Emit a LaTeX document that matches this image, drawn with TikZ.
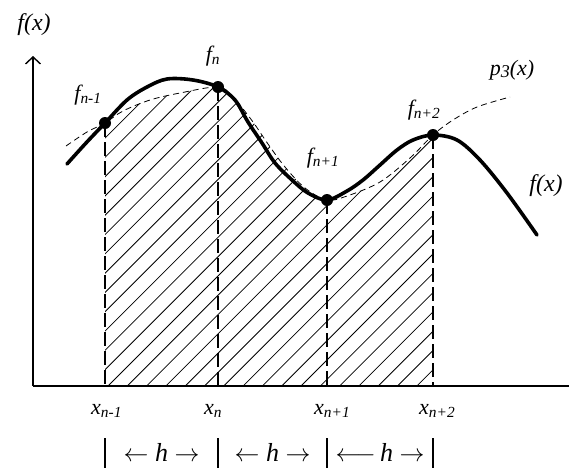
\documentclass[tikz,border=0pt]{standalone}
\usepackage{fontspec}
\setmainfont{Liberation Serif}
\usetikzlibrary{arrows.meta}
\begin{document}
\begin{tikzpicture}[x=1pt,y=-1pt,
  axis/.style={line width=1.4pt},
  fcurve/.style={line width=3.6pt, line cap=round, line join=round},
  pcurve/.style={line width=0.8pt, dash pattern=on 6pt off 4pt},
  vdash/.style={line width=1.1pt, dash pattern=on 14pt off 5pt},
  hatch/.style={line width=0.8pt},
  dot/.style={circle, fill, inner sep=0pt, minimum size=12pt},
  lab/.style={font=\fontsize{22}{24}\selectfont\itshape, inner sep=0pt},
  xlab/.style={font=\fontsize{22}{24}\selectfont\itshape, inner sep=0pt, anchor=base west},
  hlab/.style={font=\fontsize{26}{28}\selectfont, inner sep=0pt},
  bar/.style={line width=1.4pt}]
\useasboundingbox (0,0) rectangle (569,472);
% hatching
\begin{scope}
  \clip (105,0) rectangle (433,386);
  \clip plot[smooth, tension=0.55] coordinates {(66,146) (87,132) (105,123) (123,111) (150,100) (180,93) (218,87) (233,97) (253,122) (268,144) (285,167) (305,188) (327,200) (347,196) (380,182) (410,158) (433,135) (453,120) (477,107) (510,97)} -- (510,386) -- (66,386) -- cycle;
  \foreach \k in {-20,...,17} {
    \draw[hatch] ({108+19.3*\k},386) -- ++(340,-340);
  }
\end{scope}
% axes
\coordinate (O) at (33,386);
\coordinate (ytip) at (33,56);
\coordinate (xend) at (569,386);
\draw[axis, -{Straight Barb[length=7pt,width=15pt]}] (O) -- (ytip);
\draw[axis] (O) -- (xend);
\node[lab, font=\fontsize{24}{26}\selectfont\itshape] (ylab) at (34,25) {f(x)};
% p3 curve
\draw[pcurve] plot[smooth, tension=0.55] coordinates {(66,146) (87,132) (105,123) (123,111) (150,100) (180,93) (218,87) (233,97) (253,122) (268,144) (285,167) (305,188) (327,200) (347,196) (380,182) (410,158) (433,135) (453,120) (477,107) (510,97)};
% f curve
\draw[fcurve] plot[smooth, tension=0.55] coordinates {(67,164) (86,143) (105,123) (127,100) (147,87) (167,79) (193,80) (218,87) (235,100) (248,122) (262,143) (275,163) (292,180) (308,193) (327,200) (347,191) (363,180) (380,165) (397,150) (413,140) (433,135) (457,140) (480,160) (507,193) (537,235)};
% points
\node[dot] (d1) at (105,123) {};
\node[dot] (d2) at (218,87) {};
\node[dot] (d3) at (327,200) {};
\node[dot] (d4) at (433,135) {};
\coordinate (a1) at (105,386);
\coordinate (a2) at (218,386);
\coordinate (a3) at (327,386);
\coordinate (a4) at (433,386);
\draw[vdash] (d1.center) -- (a1);
\draw[vdash] (d2.center) -- (a2);
\draw[vdash] (d3.center) -- (a3);
\draw[vdash] (d4.center) -- (a4);
% labels
\node[lab] (l1) at (88,95) {f\textsubscript{n-1}};
\node[lab] (l2) at (213,56) {f\textsubscript{n}};
\node[lab] (l3) at (323,158) {f\textsubscript{n+1}};
\node[lab] (l4) at (424,110) {f\textsubscript{n+2}};
\node[lab] (p3) at (512,70) {p\raisebox{-2pt}{\fontsize{18}{20}\selectfont 3}(x)};
\node[lab, font=\fontsize{24}{26}\selectfont\itshape] (fx) at (546,186) {f(x)};
\node[xlab] (x1) at (91,414) {x\textsubscript{n-1}};
\node[xlab] (x2) at (204,414) {x\textsubscript{n}};
\node[xlab] (x3) at (314,414) {x\textsubscript{n+1}};
\node[xlab] (x4) at (419,414) {x\textsubscript{n+2}};
% h intervals
\foreach \x/\n in {105/b1,218/b2,327/b3,433/b4} {
  \coordinate (\n t) at (\x,438);
  \coordinate (\n b) at (\x,468);
  \draw[bar] (\n t) -- (\n b);
}
\node[hlab] (h1) at (161.5,452) {$\leftarrow$ \textit{h} $\rightarrow$};
\node[hlab] (h2) at (272.5,452) {$\leftarrow$ \textit{h} $\rightarrow$};
\node[hlab] (h3) at (380,452) {$\longleftarrow$\,\textit{h} $\rightarrow$};
\end{tikzpicture}
\end{document}
